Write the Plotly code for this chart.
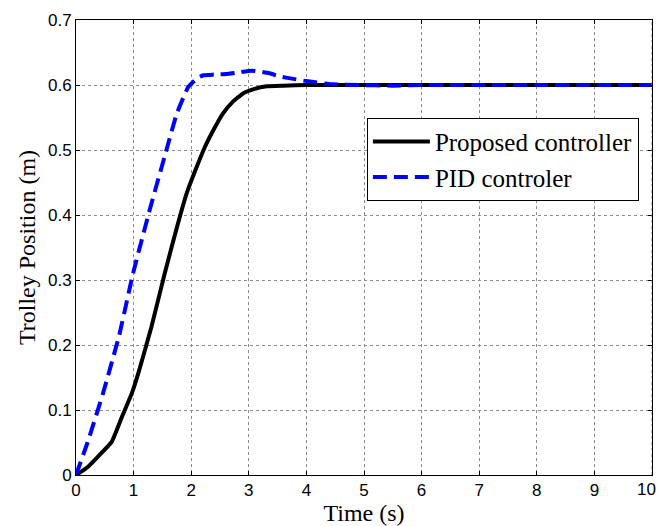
import plotly.graph_objects as go

# Step response of the trolley position
t_prop = [0, 0.2, 0.4, 0.62, 0.8, 0.97, 1.08, 1.31, 1.54, 1.77, 1.92, 2.1, 2.24, 2.4, 2.55, 2.72,
          2.9, 3.1, 3.31, 3.6, 4.0, 4.5, 5.0, 6.0, 7.0, 8.0, 9.0, 10.0]
y_prop = [0, 0.012, 0.03, 0.051, 0.09, 0.126, 0.156, 0.228, 0.31, 0.387, 0.433, 0.475, 0.505,
          0.533, 0.556, 0.574, 0.587, 0.594, 0.598, 0.599, 0.6, 0.6, 0.6, 0.6, 0.6, 0.6, 0.6, 0.6]

t_pid = [0, 0.2, 0.47, 0.75, 0.99, 1.28, 1.57, 1.75, 1.95, 2.1, 2.21, 2.4, 2.61, 2.8, 3.05, 3.36,
         3.54, 3.8, 4.0, 4.46, 4.9, 5.5, 6.0, 7.0, 8.0, 9.0, 10.0]
y_pid = [0, 0.05, 0.126, 0.215, 0.31, 0.408, 0.5, 0.556, 0.597, 0.61, 0.615, 0.616, 0.617, 0.619,
         0.622, 0.618, 0.613, 0.609, 0.606, 0.601, 0.6, 0.599, 0.6, 0.6, 0.6, 0.6, 0.6]

x_ticks = list(range(0, 11))
y_ticks = [0, 0.1, 0.2, 0.3, 0.4, 0.5, 0.6, 0.7]

tick_font = dict(family="Liberation Sans, Arial", size=17, color="black")
serif_font = dict(family="Liberation Serif, Times New Roman", size=24, color="black")

fig = go.Figure()
fig.add_trace(go.Scatter(x=t_prop, y=y_prop, mode="lines", name="Proposed controller",
                         line=dict(color="black", width=4, shape="spline", smoothing=0.4)))
fig.add_trace(go.Scatter(x=t_pid, y=y_pid, mode="lines", name="PID controler",
                         line=dict(color="#0000ff", width=4, dash="14px,7px",
                                   shape="spline", smoothing=0.4)))

axis_common = dict(
    showline=True, linecolor="black", linewidth=1, mirror="all",
    ticks="inside", ticklen=4, tickcolor="black",
    showgrid=True, gridcolor="#8c8c8c", gridwidth=1, griddash="dot",
    zeroline=False,
    tickfont=tick_font,
)

# the last x label sits on the right edge of the page; keep it as an annotation so it is not dropped
fig.update_xaxes(range=[0, 10], tickvals=x_ticks[:-1], ticktext=[str(v) for v in x_ticks[:-1]],
                 title=dict(text="Time (s)", standoff=3, font=serif_font),
                 **axis_common)
fig.update_yaxes(range=[0, 0.7], tickvals=y_ticks,
                 ticktext=["0", "0.1", "0.2", "0.3", "0.4", "0.5", "0.6", "0.7"],
                 title=dict(text="Trolley Position (m)", standoff=5, font=serif_font),
                 **axis_common)
fig.add_shape(type="line", xref="x", yref="paper", x0=x_ticks[-1], x1=x_ticks[-1],
              y0=0, y1=1, line=dict(color="#8c8c8c", width=1, dash="dot"))
fig.add_annotation(x=x_ticks[-1], y=0, xref="x", yref="paper", text=str(x_ticks[-1]),
                   showarrow=False, xanchor="right", xshift=6, yanchor="top", yshift=-3,
                   font=tick_font)

fig.update_layout(
    width=659, height=526,
    margin=dict(l=76, r=7, t=20, b=51),
    paper_bgcolor="white", plot_bgcolor="white",
    showlegend=True,
    legend=dict(x=0.505, y=0.785, xanchor="left", yanchor="top",
                bgcolor="white", bordercolor="black", borderwidth=1,
                font=dict(family="Liberation Serif, Times New Roman", size=25, color="black"),
                tracegroupgap=0, itemwidth=57),
)

fig.write_html("out.html")
